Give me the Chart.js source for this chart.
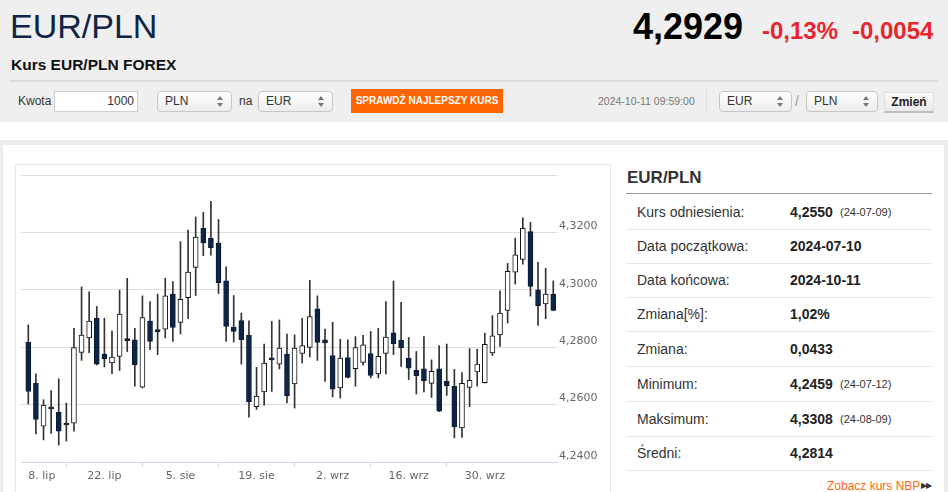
<!DOCTYPE html>
<html><head><meta charset="utf-8">
<script src="https://cdn.jsdelivr.net/npm/chart.js@4.4.1/dist/chart.umd.min.js"></script>
<style>
html,body{margin:0;padding:0}
body{width:948px;height:492px;overflow:hidden;background:#fff;font-family:"Liberation Sans",Arial,sans-serif;position:relative;color:#333}
.a{position:absolute;white-space:nowrap;line-height:1}
#hdr{left:0;top:0;width:948px;height:122px;background:#efefef}
.sel{position:absolute;box-sizing:border-box;height:21px;border:1px solid #c6c6c6;border-radius:4px;background:linear-gradient(#ffffff,#ececec);font-size:12px;line-height:19px;padding-left:7px;color:#333}
.sel:before,.sel:after{content:"";position:absolute;right:8px;width:0;height:0;border-left:3px solid transparent;border-right:3px solid transparent}
.sel:before{top:4px;border-bottom:4px solid #777}
.sel:after{top:11px;border-top:4px solid #777}
.lbl{font-size:14px;color:#333}
.val{font-size:14px;font-weight:bold;color:#222}
.sm{font-size:11px;color:#333}
.sep{position:absolute;left:626px;width:306px;height:1px;background:#e6e6e6}
</style>
</head><body>
<div class="a" id="hdr"></div>
<div class="a" style="left:10px;top:9px;font-size:34px;color:#102446">EUR/PLN</div>
<div class="a" style="left:633px;top:9px;font-size:36px;font-weight:bold;color:#000">4,2929</div>
<div class="a" style="left:762px;top:19px;font-size:24px;font-weight:bold;color:#e8262d">-0,13%</div>
<div class="a" style="left:852px;top:19px;font-size:24px;font-weight:bold;color:#e8262d">-0,0054</div>
<div class="a" style="left:11px;top:57px;font-size:15.5px;font-weight:bold;color:#111">Kurs EUR/PLN FOREX</div>
<div class="a" style="left:10px;top:80px;width:928px;height:2px;background:#dddddd"></div>

<div class="a" style="left:18px;top:95px;font-size:12px;color:#333">Kwota</div>
<div class="a" style="left:54px;top:91px;width:84px;height:21px;box-sizing:border-box;border:1px solid #cfcfcf;background:#fff;font-size:12px;line-height:19px;text-align:right;padding-right:3px">1000</div>
<div class="sel" style="left:157px;top:91px;width:75px">PLN</div>
<div class="a" style="left:239px;top:95px;font-size:12px;color:#333">na</div>
<div class="sel" style="left:258px;top:91px;width:75px">EUR</div>
<div class="a" style="left:351px;top:89px;width:152px;height:24px;background:#ff6600;color:#fff;font-size:10px;font-weight:bold;line-height:24px;text-align:center">SPRAWDŹ NAJLEPSZY KURS</div>
<div class="a" style="left:598px;top:96px;font-size:10.5px;color:#777">2024-10-11 09:59:00</div>
<div class="a" style="left:706px;top:90px;width:1px;height:23px;background:#dcdcdc"></div>
<div class="sel" style="left:719px;top:91px;width:73px">EUR</div>
<div class="a" style="left:795px;top:94px;font-size:14px;color:#999">/</div>
<div class="sel" style="left:806px;top:91px;width:72px">PLN</div>
<div class="a" style="left:884px;top:92px;width:50px;height:21px;box-sizing:border-box;border:1px solid #dedede;border-bottom:2px solid #bdbdbd;background:linear-gradient(#fbfbfb,#e9e9e9);font-size:12px;font-weight:bold;line-height:18px;text-align:center;color:#222">Zmień</div>

<div class="a" style="left:0;top:140px;width:948px;height:352px;background:#ececec"></div>
<div class="a" style="left:3px;top:145px;width:941px;height:347px;background:#fff"></div>
<div class="a" style="left:15px;top:164px;width:596px;height:340px;box-sizing:border-box;border:1px solid #e6e6e6;background:#fff"></div>
<canvas id="c" class="a" width="594" height="325" style="left:16px;top:167px;width:594px;height:325px"></canvas>

<div class="a" style="left:627px;top:169px;font-size:17px;font-weight:bold;color:#333">EUR/PLN</div>
<div class="a" style="left:626px;top:193px;width:306px;height:1px;background:#9a9a9a"></div>

<div class="a lbl" style="left:637px;top:204.7px">Kurs odniesienia:</div>
<div class="a val" style="left:790px;top:204.7px">4,2550</div>
<div class="a sm" style="left:840px;top:207.2px">(24-07-09)</div>
<div class="sep" style="top:229px"></div>

<div class="a lbl" style="left:637px;top:239.2px">Data początkowa:</div>
<div class="a val" style="left:790px;top:239.2px">2024-07-10</div>
<div class="sep" style="top:263px"></div>

<div class="a lbl" style="left:637px;top:273.2px">Data końcowa:</div>
<div class="a val" style="left:790px;top:273.2px">2024-10-11</div>
<div class="sep" style="top:297px"></div>

<div class="a lbl" style="left:637px;top:307.2px">Zmiana[%]:</div>
<div class="a val" style="left:790px;top:307.2px">1,02%</div>
<div class="sep" style="top:331px"></div>

<div class="a lbl" style="left:637px;top:341.7px">Zmiana:</div>
<div class="a val" style="left:790px;top:341.7px">0,0433</div>
<div class="sep" style="top:366px"></div>

<div class="a lbl" style="left:637px;top:376.7px">Minimum:</div>
<div class="a val" style="left:790px;top:376.7px">4,2459</div>
<div class="a sm" style="left:840px;top:379.2px">(24-07-12)</div>
<div class="sep" style="top:401px"></div>

<div class="a lbl" style="left:637px;top:411.7px">Maksimum:</div>
<div class="a val" style="left:790px;top:411.7px">4,3308</div>
<div class="a sm" style="left:840px;top:414.2px">(24-08-09)</div>
<div class="sep" style="top:436px"></div>

<div class="a lbl" style="left:637px;top:446.2px">Średni:</div>
<div class="a val" style="left:790px;top:446.2px">4,2814</div>
<div class="sep" style="top:470px"></div>

<div class="a" style="left:827px;top:480px;font-size:12px;color:#ff6a13">Zobacz kurs NBP</div>
<div class="a" style="left:921px;top:482px;font-size:8px;color:#333;letter-spacing:-1px">▶▶</div>

<script>
const dates = [
 '2024-07-08','2024-07-09','2024-07-10','2024-07-11','2024-07-12',
 '2024-07-15','2024-07-16','2024-07-17','2024-07-18','2024-07-19',
 '2024-07-22','2024-07-23','2024-07-24','2024-07-25','2024-07-26',
 '2024-07-29','2024-07-30','2024-07-31','2024-08-01','2024-08-02',
 '2024-08-05','2024-08-06','2024-08-07','2024-08-08','2024-08-09',
 '2024-08-12','2024-08-13','2024-08-14','2024-08-15','2024-08-16',
 '2024-08-19','2024-08-20','2024-08-21','2024-08-22','2024-08-23',
 '2024-08-26','2024-08-27','2024-08-28','2024-08-29','2024-08-30',
 '2024-09-02','2024-09-03','2024-09-04','2024-09-05','2024-09-06',
 '2024-09-09','2024-09-10','2024-09-11','2024-09-12','2024-09-13',
 '2024-09-16','2024-09-17','2024-09-18','2024-09-19','2024-09-20',
 '2024-09-23','2024-09-24','2024-09-25','2024-09-26','2024-09-27',
 '2024-09-30','2024-10-01','2024-10-02','2024-10-03','2024-10-04',
 '2024-10-07','2024-10-08','2024-10-09','2024-10-10','2024-10-11'
];
const open = [
 4.2817,4.2674,4.2525,4.2587,4.2573, 4.2531,4.2535,4.2782,4.2832,4.2901,
 4.2776,4.2745,4.2768,4.2825,4.2826, 4.2661,4.2891,4.2856,4.2863,4.2985,
 4.2886,4.2973,4.3078,4.3214,4.3180, 4.3163,4.3031,4.2870,4.2893,4.2842,
 4.2593,4.2644,4.2758,4.2741,4.2776, 4.2672,4.2778,4.2799,4.2934,4.2826,
 4.2771,4.2658,4.2764,4.2725,4.2747, 4.2778,4.2707,4.2778,4.2850,4.2824,
 4.2762,4.2719,4.2725,4.2674,4.2725, 4.2681,4.2664,4.2519,4.2660,4.2714,
 4.2676,4.2780,4.2843,4.2928,4.3061, 4.3106,4.3203,4.3000,4.2951,4.2985
];
const high = [
 4.2878,4.2707,4.2617,4.2649,4.2690, 4.2605,4.2866,4.3010,4.2993,4.2942,
 4.2901,4.2857,4.2999,4.3040,4.2866, 4.2979,4.2959,4.2985,4.3040,4.3029,
 4.3168,4.3208,4.3254,4.3270,4.3308, 4.3245,4.3080,4.2980,4.2919,4.2892,
 4.2730,4.2811,4.2890,4.2895,4.2846, 4.2843,4.2901,4.3033,4.2979,4.2863,
 4.2887,4.2828,4.2826,4.2837,4.2841, 4.2855,4.2866,4.2959,4.3031,4.2956,
 4.2834,4.2785,4.2837,4.2756,4.2806, 4.2811,4.2723,4.2712,4.2795,4.2793,
 4.2849,4.2910,4.2996,4.3092,4.3180, 4.3251,4.3235,4.3096,4.3075,4.3031
];
const low = [
 4.2602,4.2498,4.2477,4.2500,4.2459, 4.2473,4.2507,4.2754,4.2781,4.2738,
 4.2731,4.2708,4.2719,4.2785,4.2664, 4.2658,4.2791,4.2774,4.2832,4.2820,
 4.2846,4.2899,4.2980,4.3119,4.3121, 4.2987,4.2820,4.2818,4.2741,4.2556,
 4.2583,4.2598,4.2646,4.2724,4.2606, 4.2588,4.2745,4.2766,4.2754,4.2681,
 4.2627,4.2623,4.2693,4.2664,4.2737, 4.2693,4.2693,4.2707,4.2774,4.2733,
 4.2687,4.2637,4.2644,4.2625,4.2575, 4.2632,4.2484,4.2486,4.2593,4.2664,
 4.2675,4.2771,4.2803,4.2884,4.3020, 4.3089,4.2978,4.2876,4.2899,4.2927
];
const close = [
 4.2646,4.2548,4.2598,4.2585,4.2507, 4.2529,4.2799,4.2842,4.2891,4.2741,
 4.2759,4.2766,4.2915,4.2823,4.2738, 4.2903,4.2820,4.2854,4.2979,4.2869,
 4.2967,4.3062,4.3184,4.3163,4.3147, 4.3025,4.2872,4.2855,4.2826,4.2609,
 4.2630,4.2745,4.2756,4.2797,4.2630, 4.2797,4.2806,4.2907,4.2817,4.2815,
 4.2654,4.2762,4.2695,4.2799,4.2808, 4.2702,4.2768,4.2835,4.2812,4.2798,
 4.2727,4.2701,4.2683,4.2716,4.2577, 4.2665,4.2522,4.2674,4.2685,4.2741,
 4.2810,4.2840,4.2919,4.3064,4.3122, 4.3214,4.3012,4.2944,4.2985,4.2928
];
const tickDates  = ['2024-07-08','2024-07-22','2024-08-05','2024-08-19','2024-09-02','2024-09-16','2024-09-30'];
const tickLabels = ['8. lip','22. lip','5. sie','19. sie','2. wrz','16. wrz','30. wrz'];
const yMin = 4.24, yMax = 4.34, yStep = 0.02;

const UP = '#ffffff', DOWN = '#0e2447';
const tickIdx = tickDates.map(d => dates.indexOf(d));
const lastIdx = dates.length - 1;

Chart.defaults.font.family = '"DejaVu Sans", Verdana, sans-serif';

new Chart(document.getElementById('c'), {
  type: 'bar',
  data: {
    datasets: [
      {
        label: 'body',
        data: dates.map((d, i) => ({ x: i, y: [open[i], close[i]] })),
        backgroundColor: dates.map((d, i) => close[i] < open[i] ? DOWN : UP),
        borderColor: dates.map((d, i) => close[i] < open[i] ? '#0b1b36' : '#111111'),
        borderWidth: 1,
        borderSkipped: false,
        barThickness: 5,
        minBarLength: 2,
        grouped: false,
        order: 1
      },
      {
        label: 'wick',
        data: dates.map((d, i) => ({ x: i, y: [low[i], high[i]] })),
        backgroundColor: '#333333',
        borderWidth: 0,
        barThickness: 1,
        grouped: false,
        order: 2
      }
    ]
  },
  options: {
    responsive: false,
    animation: false,
    layout: { padding: { left: 5, top: 8, right: 0, bottom: 0 } },
    plugins: { legend: { display: false }, tooltip: { enabled: false } },
    scales: {
      x: {
        type: 'linear',
        min: -0.96,
        max: lastIdx + 0.49,
        offset: false,
        afterBuildTicks: s => { s.ticks = tickIdx.concat([lastIdx]).map(v => ({ value: v })); },
        afterFit: s => { s.height = 30; },
        grid: {
          drawOnChartArea: false,
          drawTicks: true,
          tickLength: 5,
          color: '#ccd6eb',
          tickColor: c => (c.tick && c.tick.value === lastIdx) ? 'rgba(0,0,0,0)' : '#ccd6eb'
        },
        border: { color: '#ccd6eb', width: 1 },
        ticks: {
          align: 'inner',
          autoSkip: false,
          maxRotation: 0,
          padding: 3,
          color: '#666666',
          font: { size: 11 },
          callback: v => { const k = tickIdx.indexOf(v); return k >= 0 ? tickLabels[k] : ''; }
        }
      },
      y: {
        position: 'right',
        min: yMin,
        max: yMax,
        afterFit: s => { s.width = 53; },
        grid: {
          drawTicks: false,
          color: c => (c.tick && Math.abs(c.tick.value - yMin) < 1e-9) ? 'rgba(0,0,0,0)' : '#dedede'
        },
        border: { display: false },
        ticks: {
          stepSize: yStep,
          padding: 2,
          labelOffset: -6,
          color: '#666666',
          font: { size: 11, lineHeight: 1 },
          callback: v => Math.abs(v - yMax) < 1e-9 ? '' : v.toFixed(4).replace('.', ',')
        }
      }
    }
  }
});
</script>
</body></html>
